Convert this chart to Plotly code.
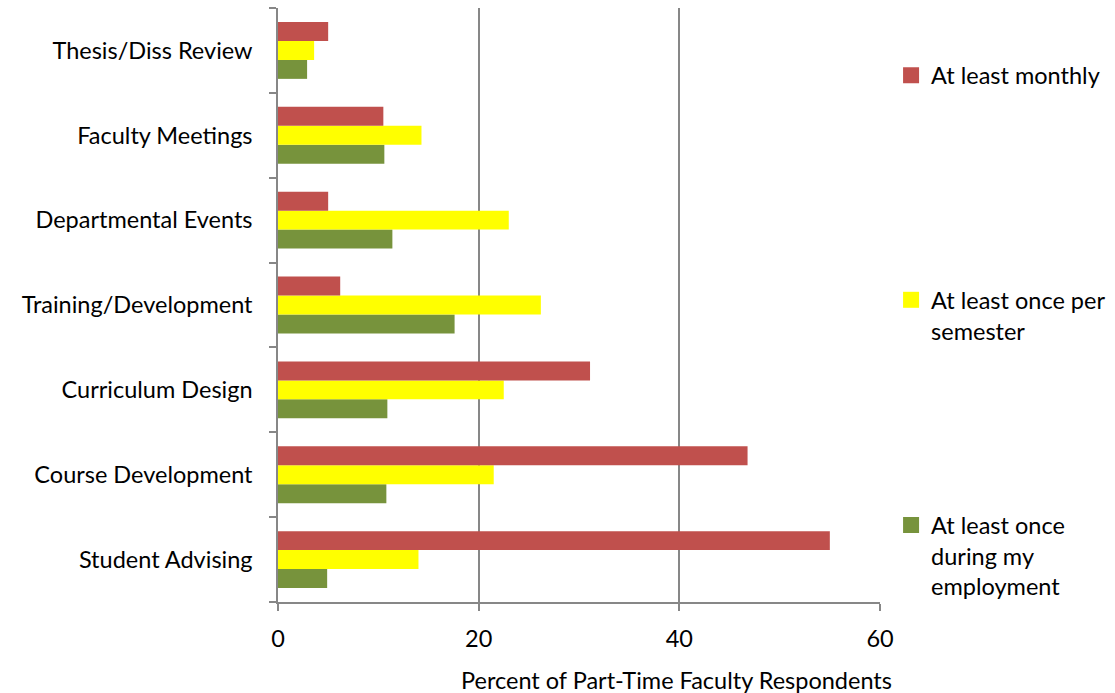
import plotly.graph_objects as go

categories = ["Student Advising", "Course Development", "Curriculum Design",
              "Training/Development", "Departmental Events", "Faculty Meetings",
              "Thesis/Diss Review"]
at_least_monthly = [55.0, 46.8, 31.1, 6.2, 5.0, 10.5, 5.0]
once_per_semester = [14.0, 21.5, 22.5, 26.2, 23.0, 14.3, 3.6]
once_employment = [4.9, 10.8, 10.9, 17.6, 11.4, 10.6, 2.9]

series_names = ["At least once<br>during my<br>employment",
                "At least once per<br>semester",
                "At least monthly"]
colors = ["#77933C", "#FFFF00", "#C0504D"]
legend_ids = ["legend3", "legend2", "legend"]
values = [once_employment, once_per_semester, at_least_monthly]

FONT = "Lato"
FS = 23.5

fig = go.Figure()
for name, vals, col, lg in zip(series_names, values, colors, legend_ids):
    fig.add_trace(go.Bar(
        y=categories, x=vals, name=name, orientation="h",
        marker=dict(color=col, line=dict(width=0)),
        showlegend=False, legendgroup=lg,
    ))
# legend-only square keys (Excel-style larger swatches)
for name, col, lg in zip(series_names, colors, legend_ids):
    fig.add_trace(go.Scatter(
        x=[None], y=[None], mode="markers", name=name,
        marker=dict(symbol="square", size=16, color=col),
        legend=lg, legendgroup=lg, showlegend=True, hoverinfo="skip",
    ))

legend_common = dict(
    font=dict(family=FONT, size=FS, color="black"),
    xanchor="left", yanchor="top", valign="top",
    bgcolor="rgba(0,0,0,0)", itemwidth=30, tracegroupgap=0,
    visible=True, itemclick=False, itemdoubleclick=False,
)

dy = 5 / 594
lx = 1.035 - 10 / 602

fig.update_layout(
    width=1115, height=693,
    margin=dict(l=278, r=235, t=8, b=91, autoexpand=False),
    paper_bgcolor="white", plot_bgcolor="white",
    showlegend=True,
    barmode="group", bargap=0.33, bargroupgap=0,
    font=dict(family=FONT, size=FS, color="black"),
    xaxis=dict(
        range=[0, 60], dtick=20, tick0=0,
        showgrid=True, gridcolor="#878787", gridwidth=1.5,
        showline=True, linecolor="#878787", linewidth=1.5,
        ticks="outside", ticklen=7, tickcolor="#878787", tickwidth=1.5,
        tickfont=dict(family=FONT, size=FS, color="black"),
        ticklabelstandoff=8,
        zeroline=False, fixedrange=True,
    ),
    yaxis=dict(
        type="category", tickson="boundaries",
        showline=True, linecolor="#878787", linewidth=1.5,
        ticks="outside", ticklen=7, tickcolor="#878787", tickwidth=1.5,
        tickfont=dict(family=FONT, size=FS, color="black"),
        ticklabelstandoff=19,
        showgrid=False, fixedrange=True,
    ),
    legend=dict(x=lx, y=0.915 + dy, **legend_common),
    legend2=dict(x=lx, y=0.537 + dy, **legend_common),
    legend3=dict(x=lx, y=0.158 + dy, **legend_common),
    annotations=[dict(
        text="Percent of Part-Time Faculty Respondents",
        xref="paper", yref="paper", x=(676 - 278) / 602, y=0,
        xanchor="center", yanchor="middle", yshift=-78,
        showarrow=False, font=dict(family=FONT, size=FS, color="black"),
    )],
)

fig.write_html("out.html")
